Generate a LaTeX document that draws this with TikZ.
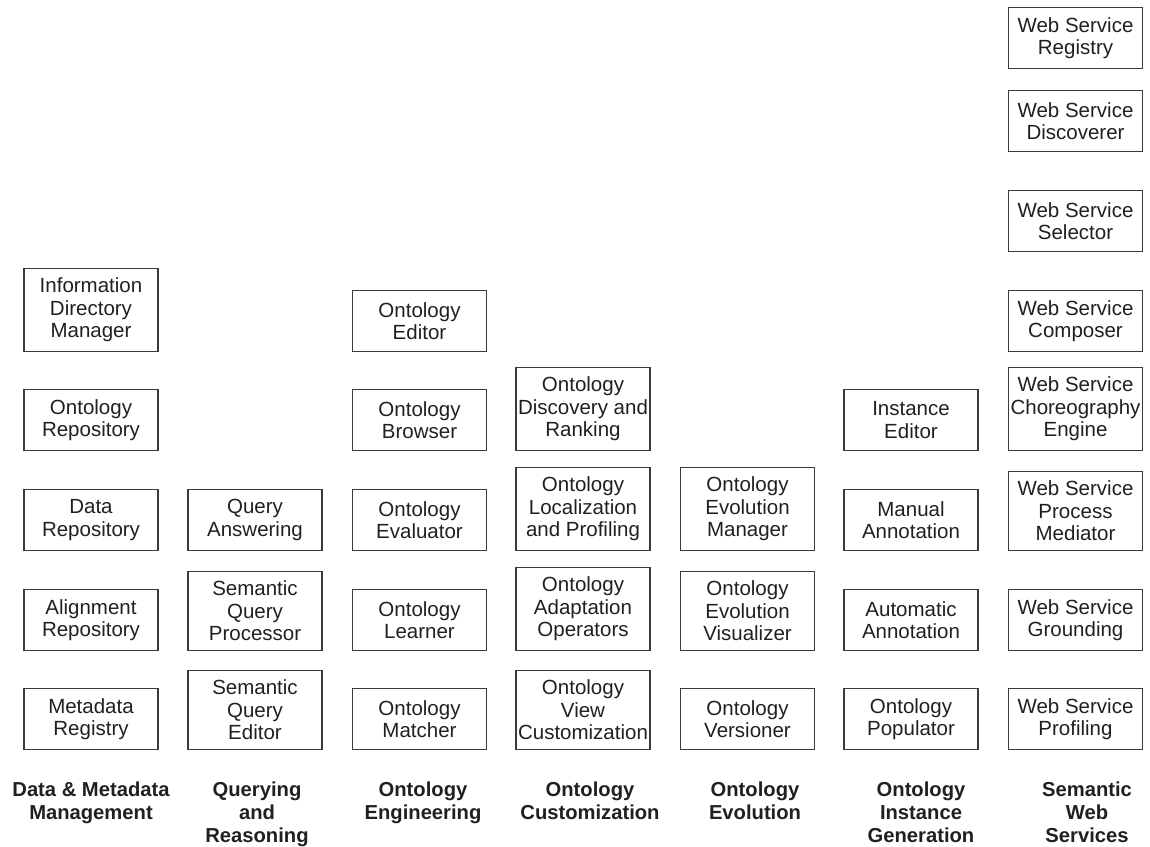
\documentclass[tikz,border=0pt]{standalone}
\usepackage{fontspec}
\setmainfont{Liberation Sans}
\usetikzlibrary{positioning}
\definecolor{cmline}{HTML}{3A3A3A}
\definecolor{cmtext}{HTML}{231F20}
\tikzset{
  comp/.style={draw=cmline,line width=0.55pt,align=center,anchor=south,
               minimum width=67pt,minimum height=30.5pt,inner xsep=1pt,inner ysep=4.7pt,
               font=\fontsize{10.25}{11.25}\selectfont,text=cmtext},
  area/.style={align=center,anchor=north,inner sep=0pt,
               font=\fontsize{10.1}{11.5}\selectfont\bfseries,text=cmtext},
}

\begin{document}
\begin{tikzpicture}[x=0.5pt,y=-0.5pt]
  \useasboundingbox (0,0) rectangle (1150,846);
  % data & metadata management
  \node[comp] (idm) at (91,352) {Information\\Directory\\Manager};
  \node[comp] (orep) at (91,451) {Ontology\\Repository};
  \node[comp] (drep) at (91,551) {Data\\Repository};
  \node[comp] (arep) at (91,651) {Alignment\\Repository};
  \node[comp] (mreg) at (91,750) {Metadata\\Registry};
  % querying and reasoning
  \node[comp] (qa) at (255,551) {Query\\Answering};
  \node[comp] (sqp) at (255,651) {Semantic\\Query\\Processor};
  \node[comp] (sqe) at (255,750) {Semantic\\Query\\Editor};
  % ontology engineering
  \node[comp] (oed) at (419.5,352) {Ontology\\Editor};
  \node[comp] (obr) at (419.5,451) {Ontology\\Browser};
  \node[comp] (oev) at (419.5,551) {Ontology\\Evaluator};
  \node[comp] (olr) at (419.5,651) {Ontology\\Learner};
  \node[comp] (omt) at (419.5,750) {Ontology\\Matcher};
  % ontology customization
  \node[comp] (odr) at (583,451) {Ontology\\Discovery and\\Ranking};
  \node[comp] (olp) at (583,551) {Ontology\\Localization\\and Profiling};
  \node[comp] (oao) at (583,651) {Ontology\\Adaptation\\Operators};
  \node[comp] (ovc) at (583,750) {Ontology\\View\\Customization};
  % ontology evolution
  \node[comp] (oem) at (747.5,551) {Ontology\\Evolution\\Manager};
  \node[comp] (oevz) at (747.5,651) {Ontology\\Evolution\\Visualizer};
  \node[comp] (over) at (747.5,750) {Ontology\\Versioner};
  % instance generation
  \node[comp] (ied) at (911,451) {Instance\\Editor};
  \node[comp] (man) at (911,551) {Manual\\Annotation};
  \node[comp] (aut) at (911,651) {Automatic\\Annotation};
  \node[comp] (pop) at (911,750) {Ontology\\Populator};
  % semantic web services
  \node[comp] (wsreg) at (1075.5,69) {Web Service\\Registry};
  \node[comp] (wsdis) at (1075.5,152) {Web Service\\Discoverer};
  \node[comp] (wssel) at (1075.5,252) {Web Service\\Selector};
  \node[comp] (wscom) at (1075.5,352) {Web Service\\Composer};
  \node[comp] (wscho) at (1075.5,451) {Web Service\\Choreography\\Engine};
  \node[comp] (wspm) at (1075.5,551) {Web Service\\Process\\Mediator};
  \node[comp] (wsgr) at (1075.5,651) {Web Service\\Grounding};
  \node[comp] (wspr) at (1075.5,750) {Web Service\\Profiling};
  % area titles
  \node[area] (tdm) at (91,781) {Data \& Metadata\\Management};
  \node[area] (tqr) at (257,781) {Querying\\and\\Reasoning};
  \node[area] (toe) at (423,781) {Ontology\\Engineering};
  \node[area] (toc) at (590,781) {Ontology\\Customization};
  \node[area] (tev) at (755,781) {Ontology\\Evolution};
  \node[area] (tig) at (921,781) {Ontology\\Instance\\Generation};
  \node[area] (tsw) at (1087,781) {Semantic\\Web\\Services};
\end{tikzpicture}
\end{document}
